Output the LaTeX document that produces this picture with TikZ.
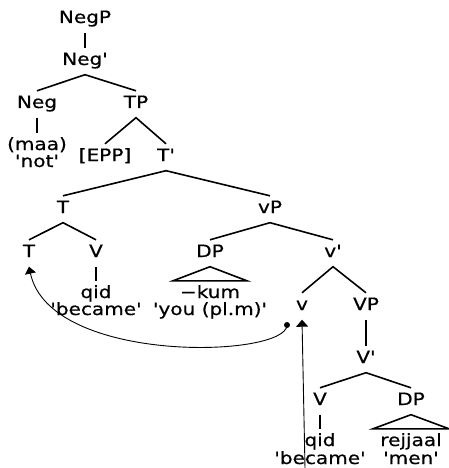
\documentclass[tikz,border=0pt]{standalone}
\usepackage{fontspec}
\newfontfamily\treefont{DejaVu Sans}[FakeStretch=1.18, FakeBold=0.6, Ligatures=TeXOff]
\usetikzlibrary{arrows.meta}
\begin{document}
\begin{tikzpicture}[x=1pt,y=-1pt,
  lab/.style={font=\treefont\fontsize{17}{17}\selectfont, inner sep=0pt, anchor=base, text height=17pt, text depth=9.5pt},
  gloss/.style={font=\treefont\fontsize{17}{17}\selectfont, inner sep=0pt, anchor=base},
  br/.style={line width=1.6pt},
  mv/.style={line width=0.9pt}]
\useasboundingbox[fill=white] (0,0) rectangle (449,468);
% nodes
\node[lab] (negp)   at (85,23)   {NegP};
\node[lab] (negbar) at (85,65)   {Neg'};
\node[lab] (neg)    at (37,108)  {Neg};
\node[lab] (tp)     at (136,108) {TP};
\node[lab] (maa)    at (37,150)  {(maa)};
\node[gloss] (not)  at (37,167)  {'not'};
\node[lab] (epp)    at (105,161) {[EPP]};
\node[lab] (tbar)   at (166,161) {T'};
\node[lab] (t)      at (63,213)  {T};
\node[lab] (vp)     at (270,213) {vP};
\node[lab] (tlow)   at (29,257)  {T};
\node[lab] (v1)     at (96,257)  {V};
\node[lab] (qid1)   at (96,298)  {qid};
\node[gloss] (bec1) at (96,315)  {'became'};
\node[lab] (dp1)    at (210,257) {DP};
\node[lab] (kum)    at (210,298) {−kum};
\node[gloss] (you)  at (210,315) {'you (pl.m)'};
\node[lab] (vbar)   at (333,257) {v'};
\node[lab] (vsm)    at (302,310) {v};
\node[lab] (VP)     at (366,310) {VP};
\node[lab] (Vbar)   at (366,363) {V'};
\node[lab] (V2)     at (320,405) {V};
\node[lab] (dp2)    at (411,405) {DP};
\node[lab] (qid2)   at (320,446) {qid};
\node[gloss] (bec2) at (320,464) {'became'};
\node[lab] (rej)    at (411,446) {rejjaal};
\node[gloss] (men)  at (411,464) {'men'};
% branches
\draw[br] (negp.south) -- (negbar.north);
\draw[br] (neg.north) -- (negbar.south) -- (tp.north);
\draw[br] (neg.south) -- (maa.north);
\draw[br] (epp.north) -- (tp.south) -- (tbar.north);
\draw[br] (t.north) -- (tbar.south) -- (vp.north);
\draw[br] (tlow.north) -- (t.south) -- (v1.north);
\draw[br] (v1.south) -- (qid1.north);
\draw[br] (dp1.north) -- (vp.south) -- (vbar.north);
\draw[br] (dp1.south) -- ([xshift=-37pt]kum.north) -- ([xshift=37pt]kum.north) -- cycle;
\draw[br] (vsm.north) -- (vbar.south) -- (VP.north);
\draw[br] (VP.south) -- (Vbar.north);
\draw[br] (V2.north) -- (Vbar.south) -- (dp2.north);
\draw[br] (V2.south) -- (qid2.north);
\draw[br] (dp2.south) -- ([xshift=-38pt]rej.north) -- ([xshift=38pt]rej.north) -- cycle;
% movement arrows
\coordinate (bot) at (305,468);
\coordinate (dotpt) at (287,325);
\draw[mv, -{Triangle[width=12pt,length=7pt]}] (bot) -- (vsm.south);
\fill (dotpt) circle (3pt);
\draw[mv, -{Triangle[width=11pt,length=7pt]}] (dotpt) .. controls (287,358) and (50,365) .. (tlow.south);
\end{tikzpicture}
\end{document}
